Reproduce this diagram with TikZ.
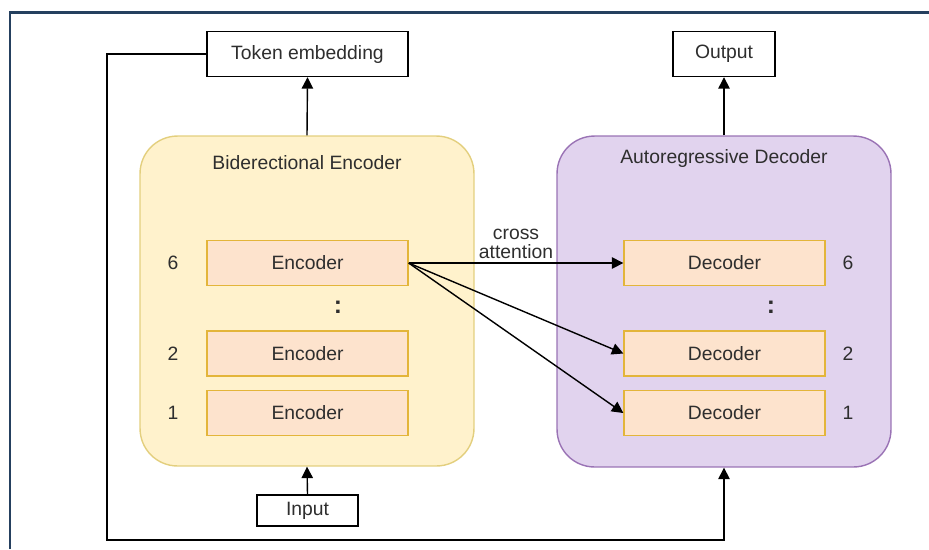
\documentclass[tikz,border=0pt]{standalone}
\usepackage{fontspec}
\setmainfont{Liberation Sans}
\usetikzlibrary{arrows.meta}
\definecolor{framecol}{HTML}{25405F}
\definecolor{encfill}{HTML}{FFF2CC}
\definecolor{encline}{HTML}{E3CF7E}
\definecolor{decfill}{HTML}{E1D3EE}
\definecolor{decline}{HTML}{9A73B5}
\definecolor{blockfill}{HTML}{FDE3CD}
\definecolor{blockline}{HTML}{E3B53A}
\definecolor{txtcol}{HTML}{2E2E2E}

\begin{document}
\begin{tikzpicture}[x=0.02cm, y=-0.02cm,
    font=\fontsize{11}{13}\selectfont, text=txtcol,
    plain/.style={draw=black, fill=white, thick, inner sep=0pt, minimum height=0.9cm},
    stack/.style={rounded corners=0.75cm, inner sep=0pt, minimum width=6.68cm, thick},
    block/.style={draw=blockline, fill=blockfill, thick, inner sep=0pt, minimum width=4.02cm, minimum height=0.9cm},
    conn/.style={thick, -{Triangle[length=6.5pt,width=6.5pt]}}]
  \useasboundingbox (0,0) rectangle (929,549);
  \draw[framecol, line width=0.06cm] (10,549) -- (10,12) -- (929,12);

  \node[stack, draw=encline, fill=encfill, minimum height=6.6cm] (encstack) at (307,301) {};
  \node[stack, draw=decline, fill=decfill, minimum height=6.62cm] (decstack) at (724,301.5) {};
  \node (enctitle) at (307,163) {Biderectional Encoder};
  \node (dectitle) at (724,158) {Autoregressive Decoder};

  \node[plain, minimum width=4.02cm] (tok) at (307.5,54) {Token embedding};
  \node[plain, minimum width=2.04cm] (out) at (724,54) {Output};
  \node[plain, minimum width=2.02cm, minimum height=0.62cm] (inp) at (307.5,510.5) {Input};

  \node[block] (e6) at (307.5,263) {Encoder};
  \node[block] (e2) at (307.5,353.5) {Encoder};
  \node[block] (e1) at (307.5,413) {Encoder};
  \node[block] (d6) at (724.5,263) {Decoder};
  \node[block] (d2) at (724.5,353.5) {Decoder};
  \node[block] (d1) at (724.5,413) {Decoder};

  \node (n6) at (173,263) {6};
  \node (n2) at (173,353.5) {2};
  \node (n1) at (173,413) {1};
  \node (m6) at (848,263) {6};
  \node (m2) at (848,353.5) {2};
  \node (m1) at (848,413) {1};
  \node[font=\fontsize{14}{14}\selectfont\bfseries] (edots) at (338,307) {:};
  \node[font=\fontsize{14}{14}\selectfont\bfseries] (ddots) at (771,307) {:};

  \draw[conn] (encstack.north) -- (tok.south);
  \draw[conn] (decstack.north) -- (out.south);
  \draw[conn] (inp.north) -- (encstack.south);
  \draw[conn] (tok.west) -- (107,54) -- (107,540) -| (decstack.south);

  \draw[conn] (e6.east) -- (d6.west)
    node[pos=0.5, above, align=center, inner sep=2pt, font=\fontsize{11}{11}\selectfont] (xattn) {cross\\attention};
  \draw[conn] (e6.east) -- (d2.west);
  \draw[conn] (e6.east) -- (d1.west);
\end{tikzpicture}
\end{document}
